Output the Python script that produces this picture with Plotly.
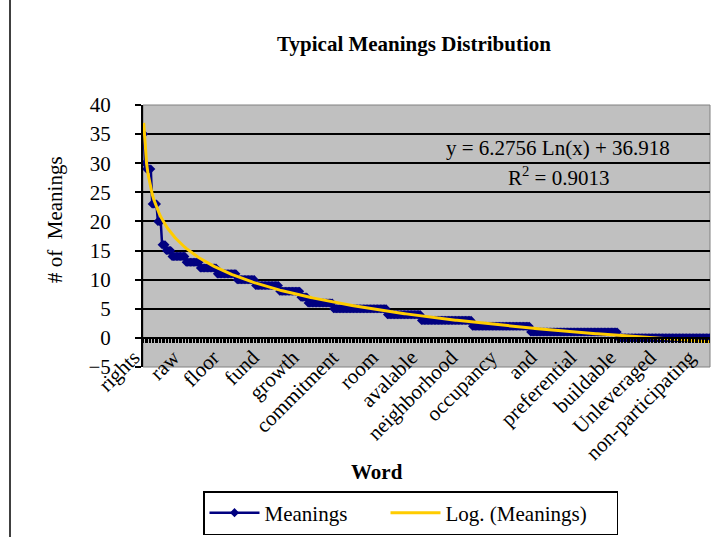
import numpy as np
import plotly.graph_objects as go

# ---- data ----
RUN_VALUES = [35, 30, 29, 23, 20, 16, 15, 14, 13, 12, 11, 10, 9, 8, 7, 6, 5, 4, 3, 2, 1, 0]
RUN_LENGTHS = [1, 1, 4, 4, 3, 3, 4, 10, 10, 12, 14, 13, 17, 15, 5, 18, 38, 24, 36, 41, 62, 65]
TICK_WORDS = ["rights", "raw", "floor", "fund", "growth", "commitment", "room", "avalable",
              "neighborhood", "occupancy", "and", "preferential", "buildable", "Unleveraged",
              "non-participating"]
TICK_STEP = 28
TREND_SLOPE = -6.2756
TREND_INTERCEPT = 36.918
EQUATION_TEXT = "y = 6.2756 Ln(x) + 36.918"
R2_TEXT = "R<sup>2</sup> = 0.9013"
Y_TICKS = [-5, 0, 5, 10, 15, 20, 25, 30, 35, 40]
GRID_TICKS = [5, 10, 15, 20, 25, 30, 35, 40]

meanings = np.repeat(RUN_VALUES, RUN_LENGTHS)
n = len(meanings)
x = np.arange(1, n + 1)
trend = TREND_SLOPE * np.log(x) + TREND_INTERCEPT
tick_pos = [1 + i * TICK_STEP for i in range(len(TICK_WORDS))]

FONT = "Liberation Serif, Times New Roman, serif"
W, H = 718, 537
L, R, T, B = 143, 8, 105, 170
pw, ph = W - L - R, H - T - B


def px(xp):
    return (xp - L) / pw


def py(yp):
    return (H - B - yp) / ph


fig = go.Figure()
fig.add_trace(go.Scatter(
    x=x, y=meanings, name="Meanings", mode="lines+markers",
    line=dict(color="#000080", width=2.5),
    marker=dict(symbol="diamond", size=7, color="#000080"),
    legendwidth=116,
))
fig.add_trace(go.Scatter(
    x=x, y=trend, name="Log. (Meanings)", mode="lines", yaxis="y2",
    line=dict(color="#FFCC00", width=3),
    legendwidth=166,
))

yrange = [Y_TICKS[0], Y_TICKS[-1]]
fig.update_layout(
    template="none",
    width=W, height=H,
    margin=dict(l=L, r=R, t=T, b=B, pad=0, autoexpand=False),
    paper_bgcolor="white",
    plot_bgcolor="#C0C0C0",
    font=dict(family=FONT, size=21, color="black"),
    title=dict(text="<b>Typical Meanings Distribution</b>", font=dict(size=21, family=FONT),
               x=414 / W, xref="container", xanchor="center",
               y=1 - 44 / H, yref="container", yanchor="middle"),
    showlegend=True,
    legend=dict(orientation="h", x=px(203), y=py(491), xanchor="left", yanchor="top",
                bgcolor="white", bordercolor="black", borderwidth=1.5, itemwidth=50,
                font=dict(size=21, family=FONT), traceorder="normal"),
    xaxis=dict(
        range=[0.5, n + 0.5], anchor="free", position=(0 - Y_TICKS[0]) / (Y_TICKS[-1] - Y_TICKS[0]),
        tickmode="array", tickvals=tick_pos, ticktext=TICK_WORDS, tickangle=-45,
        ticks="outside", ticklen=4, tickwidth=1, tickcolor="black",
        showline=True, linecolor="black", linewidth=2,
        showgrid=False, zeroline=False, automargin=False,
        tickfont=dict(size=21, family=FONT),
        ticklabelstandoff=-6, ticklabelshift=-10,
        minor=dict(dtick=1, tick0=1, ticks="outside", ticklen=4, tickwidth=1,
                   tickcolor="black", showgrid=False),
    ),
    yaxis=dict(
        range=yrange, tickmode="array", tickvals=Y_TICKS,
        ticks="outside", ticklen=6, tickwidth=1.5, tickcolor="black",
        showline=True, linecolor="black", linewidth=2,
        showgrid=False, zeroline=False,
        automargin=False, tickfont=dict(size=21, family=FONT), ticklabelstandoff=20,
    ),
    yaxis2=dict(
        range=yrange, overlaying="y", side="left", anchor="x",
        tickmode="array", tickvals=GRID_TICKS, showticklabels=False, ticks="",
        showline=False, showgrid=True, gridcolor="black", gridwidth=1.5, zeroline=False,
        automargin=False,
    ),
    annotations=[
        dict(text="<b>Word</b>", x=px(377), y=py(472), xref="paper", yref="paper",
             xanchor="center", yanchor="middle",
             showarrow=False, font=dict(size=21, family=FONT)),
        dict(text="# of\u00a0 Meanings", x=px(55), y=py(220), xref="paper", yref="paper",
             xanchor="center", yanchor="middle",
             showarrow=False, textangle=-90, font=dict(size=21, family=FONT)),
        dict(text=EQUATION_TEXT, x=px(558), y=py(148), xref="paper", yref="paper",
             xanchor="center", yanchor="middle",
             showarrow=False, font=dict(size=21, family=FONT)),
        dict(text=R2_TEXT, x=px(558), y=py(176), xref="paper", yref="paper",
             xanchor="center", yanchor="middle",
             showarrow=False, font=dict(size=21, family=FONT)),
    ],
    shapes=[
        dict(type="rect", xref="paper", yref="paper", x0=0, x1=1, y0=0, y1=1,
             line=dict(color="#808080", width=1), layer="below"),
        dict(type="line", xref="paper", yref="paper", x0=px(10), x1=px(10),
             y0=py(H + 5), y1=py(-5), line=dict(color="black", width=1.5)),
    ],
)

fig.write_html("out.html", config={"displayModeBar": False},
               post_script="document.body.style.margin='0';")
